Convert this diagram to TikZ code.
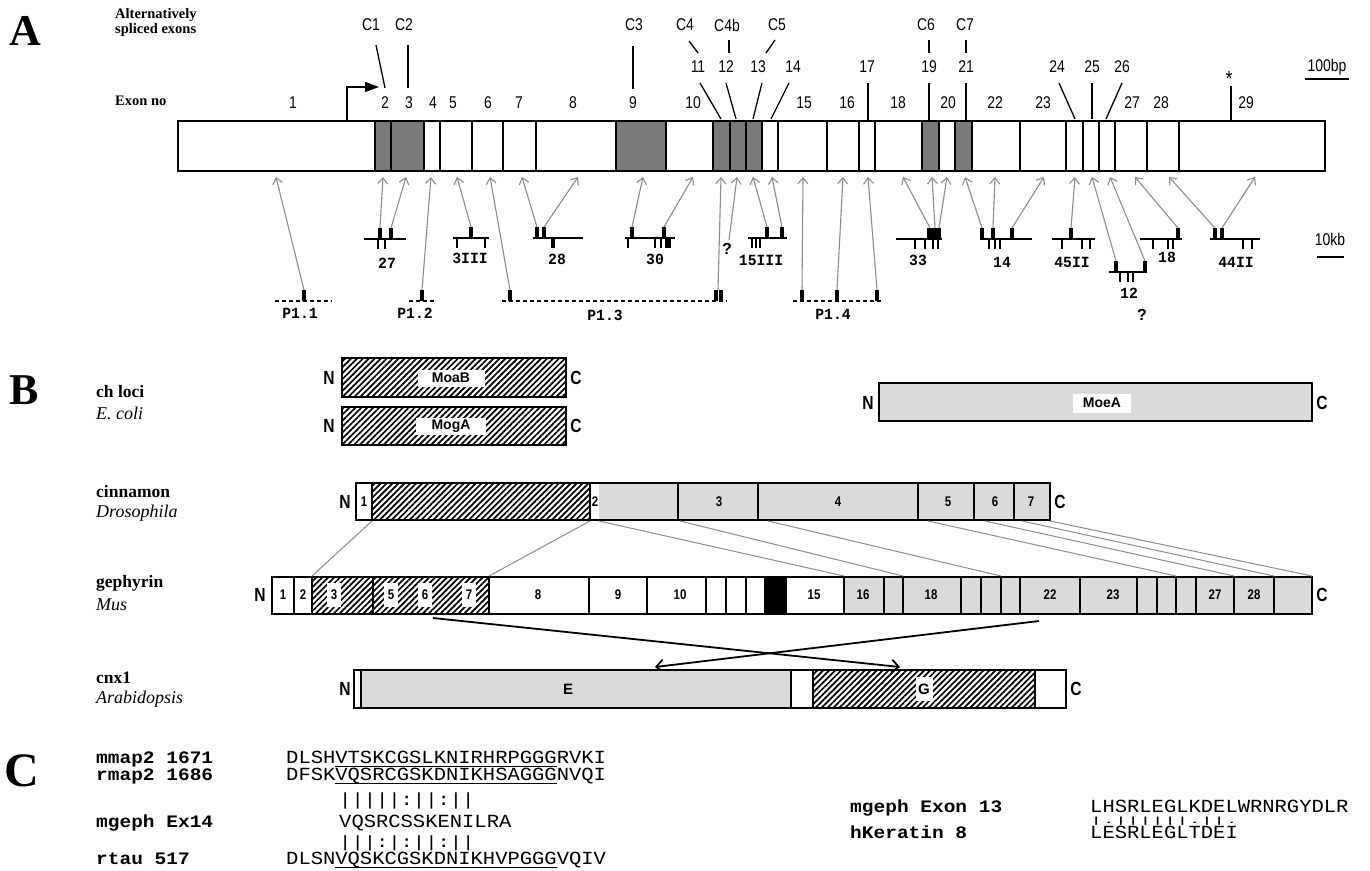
\documentclass[tikz,border=0pt]{standalone}
\usepackage{fontspec}
\setmainfont{Liberation Serif}
\newfontfamily\csans[FakeStretch=0.82]{Liberation Sans}
\newfontfamily\nsans{Liberation Sans}
\newfontfamily\seqf[FakeStretch=1.108]{Liberation Mono}
\newfontfamily\seqbf[FakeStretch=1.114]{Liberation Mono}
\newfontfamily\clf[FakeStretch=0.95]{Liberation Mono}
\usetikzlibrary{arrows.meta,patterns.meta}
\definecolor{altgray}{HTML}{7A7A7A}
\definecolor{lgray}{HTML}{DADADA}
\definecolor{agray}{HTML}{8C8C8C}
\tikzset{
 panel/.style={font=\bfseries\fontsize{44}{44}\selectfont, inner sep=0},
 head/.style={font=\bfseries\fontsize{14.5}{14.5}\selectfont, inner sep=0, anchor=west},
 exn/.style={font=\csans\fontsize{17}{17}\selectfont, inner sep=0},
 ptr/.style={line width=1.3pt},
 genebar/.style={draw, line width=1.6pt},
 garr/.style={draw=agray, line width=1.1pt, -{Straight Barb[length=6pt,width=10pt,line width=1.1pt]}},
 cline/.style={line width=1.6pt},
 ctick/.style={line width=1.2pt},
 clab/.style={font=\clf\bfseries\fontsize{15.5}{15.5}\selectfont, inner sep=0},
 pdash/.style={line width=1.2pt, dash pattern=on 4pt off 3pt},
 hatch/.style={pattern={Lines[angle=45,distance=4.2pt,line width=1.7pt]}},
 prot/.style={draw, line width=1.5pt},
 tlab/.style={font=\bfseries\fontsize{17.5}{17.5}\selectfont, inner sep=0, anchor=west},
 slab/.style={font=\itshape\fontsize{18}{18}\selectfont, inner sep=0, anchor=west},
 nc/.style={font=\csans\bfseries\fontsize{19}{19}\selectfont, inner sep=0},
 wl/.style={fill=white, inner sep=0, font=\nsans\bfseries\fontsize{14}{14}\selectfont},
 sl/.style={font=\csans\bfseries\fontsize{14}{14}\selectfont, inner sep=0},
 wd/.style={sl, fill=white, minimum width=14pt, minimum height=24pt},
 hom/.style={draw=agray, line width=1pt},
 xarr/.style={line width=1.8pt, -{Straight Barb[length=7pt,width=13pt,line width=1.8pt]}},
 seq/.style={font=\seqf\fontsize{18.5}{18.5}\selectfont, inner sep=0, anchor=base west, text height=10pt, text depth=1pt},
 seqb/.style={font=\seqbf\bfseries\fontsize{17.5}{17.5}\selectfont, inner sep=0, anchor=base west, text height=10pt, text depth=1pt},
 bars/.style={font=\seqf\fontsize{18.5}{18.5}\selectfont, inner sep=0, anchor=base west, text height=13pt, text depth=2pt},
 uline/.style={line width=1pt},
}
\newcommand\cmk[2]{\fill (#1-2,#2-11) rectangle (#1+2,#2);}
\newcommand\ctk[2]{\draw[ctick] (#1,#2) -- (#1,#2+10);}
\begin{document}
\begin{tikzpicture}[x=1pt,y=-1pt]
\useasboundingbox (0,0) rectangle (1370,870);
\fill[white] (0,0) rectangle (1370,870);
% ================= Panel A =================
\node[panel] (pA) at (25,31) {A};
\node[head] (alt1) at (115,15) {Alternatively};
\node[head] (alt2) at (115,30) {spliced exons};
\node[head] (exno) at (115,101) {Exon no};
% gene bar
\foreach \a/\b in {375/391,391/424,616/666,713/730,730/746,746/762,922/939,955/972}
  \fill[altgray] (\a,121) rectangle (\b,171);
\draw[genebar] (178,121) rectangle (1325,171);
\foreach \x in {375,391,424,440,472,503,536,616,666,713,730,746,762,778,827,859,875,922,939,955,972,1020,1066,1083,1099,1115,1147,1179}
  \draw[line width=1.3pt] (\x,121) -- (\x,171);
% promoter arrow
\draw[line width=1.3pt, -{Triangle[length=14pt,width=10pt]}] (347,121) -- (347,87) -- (379,87);
% exon numbers, lower row
\foreach \x/\t in {293/1,385/2,409/3,433/4,453/5,488/6,519/7,573/8,633/9,693/10,804/15,847/16,898/18,948/20,995/22,1043/23,1132/27,1161/28,1246/29}
  \node[exn] (e\t) at (\x,103) {\t};
% exon numbers, upper row
\foreach \x/\t in {698/11,726/12,758/13,793/14,867/17,929/19,966/21,1057/24,1092/25,1122/26}
  \node[exn] (u\t) at (\x,67) {\t};
% alt-spliced labels
\foreach \x/\t in {371/C1,404/C2,634/C3,685/C4,727/C4b,777/C5,926/C6,965/C7}
  \node[exn] (c\t) at (\x,25) {\t};
% pointer lines
\draw[ptr] (376,45) -- (385,88);
\draw[ptr] (408,45) -- (408,88);
\draw[ptr] (633,46) -- (633,89);
\draw[ptr] (689,41) -- (698,53);
\draw[ptr] (729,40) -- (729,53);
\draw[ptr] (775,40) -- (766,53);
\draw[ptr] (929,40) -- (929,53);
\draw[ptr] (966,40) -- (966,53);
\draw[ptr] (700,83) -- (721,119);
\draw[ptr] (726,83) -- (736,119);
\draw[ptr] (762,83) -- (753,119);
\draw[ptr] (789,83) -- (771,119);
\draw[ptr] (868,83) -- (868,121);
\draw[ptr] (929,83) -- (929,121);
\draw[ptr] (966,83) -- (966,121);
\draw[ptr] (1059,83) -- (1075,119);
\draw[ptr] (1092,83) -- (1092,119);
\draw[ptr] (1122,83) -- (1106,119);
\node[exn, font=\csans\fontsize{22}{22}\selectfont] (star) at (1229,79) {*};
\draw[ptr] (1231,86) -- (1231,121);
\node[exn] (bp) at (1327,67) {100bp};
\draw[line width=1.3pt] (1305,79) -- (1349,79);
% ---- genomic clones ----
\draw[pdash] (275,301) -- (332,301); \cmk{304}{301}
\node[clab] (p11) at (300,313) {P1.1};
\draw[pdash] (409,301) -- (435,301); \cmk{422}{301}
\node[clab] (p12) at (415,313) {P1.2};
\draw[pdash] (502,301) -- (727,301); \cmk{510}{301}\cmk{716}{301}\cmk{721}{301}
\node[clab] (p13) at (605,315) {P1.3};
\draw[pdash] (793,301) -- (883,301); \cmk{802}{301}\cmk{837}{301}\cmk{877}{301}
\node[clab] (p14) at (833,314) {P1.4};
% 27
\draw[cline] (364,239) -- (406,239); \cmk{380}{239}\cmk{391}{239}\ctk{378}{239}\ctk{385}{239}
\node[clab] (k27) at (387,263) {27};
% 3III
\draw[cline] (453,238) -- (489,238); \cmk{471}{238}\ctk{457}{238}\ctk{485}{238}
\node[clab] (k3) at (470,258) {3III};
% 28
\draw[cline] (533,238) -- (583,238); \cmk{537}{238}\cmk{544}{238}
\fill (551,238) rectangle (555,248);
\node[clab] (k28) at (557,259) {28};
% 30
\draw[cline] (625,238) -- (675,238); \cmk{632}{238}\cmk{664}{238}
\ctk{628}{238}\ctk{655}{238}\ctk{661}{238}\fill (665,238) rectangle (671,248);
\node[clab] (k30) at (655,259) {30};
\node[exn, font=\nsans\bfseries\fontsize{16}{16}\selectfont] (q1) at (727,249) {?};
% 15III
\draw[cline] (748,238) -- (787,238); \cmk{767}{238}\cmk{782}{238}\ctk{752}{238}\ctk{756}{238}\ctk{760}{238}
\node[clab] (k15) at (761,260) {15III};
% 33
\draw[cline] (896,239) -- (942,239); \fill (927,228) rectangle (941,239);
\ctk{915}{239}\ctk{925}{239}\ctk{933}{239}\ctk{938}{239}
\node[clab] (k33) at (918,260) {33};
% 14
\draw[cline] (980,239) -- (1032,239); \cmk{982}{239}\cmk{993}{239}\cmk{1012}{239}
\ctk{989}{239}\ctk{995}{239}\ctk{1000}{239}
\node[clab] (k14) at (1002,262) {14};
% 45II
\draw[cline] (1052,239) -- (1095,239); \cmk{1071}{239}\ctk{1062}{239}\ctk{1082}{239}\ctk{1090}{239}
\node[clab] (k45) at (1072,262) {45II};
% 12
\draw[cline] (1109,272) -- (1147,272); \cmk{1116}{272}\cmk{1145}{272}\ctk{1120}{272}\ctk{1128}{272}\ctk{1133}{272}
\node[clab] (k12) at (1129,293) {12};
\node[exn, font=\nsans\bfseries\fontsize{16}{16}\selectfont] (q2) at (1142,315) {?};
% 18
\draw[cline] (1140,239) -- (1182,239); \cmk{1178}{239}\ctk{1153}{239}\ctk{1168}{239}\ctk{1173}{239}
\node[clab] (k18) at (1167,257) {18};
% 44II
\draw[cline] (1210,239) -- (1260,239); \cmk{1215}{239}\cmk{1222}{239}\ctk{1243}{239}\ctk{1252}{239}
\node[clab] (k44) at (1236,262) {44II};
% 10kb
\node[exn] (kb) at (1330,239) {10kb};
\draw[line width=1.3pt] (1317,257) -- (1344,257);
% arrows
\foreach \a/\b/\c/\d in {304/290/276/177, 380/228/383/177, 391/228/406/177, 422/290/431/177,
  471/227/457/177, 510/290/490/177, 537/227/522/177, 544/227/578/177, 632/227/643/177,
  664/227/693/177, 729/240/737/177, 718/290/721/177, 767/227/753/177, 782/227/772/177,
  802/290/803/177, 837/290/843/177, 877/290/868/177, 930/228/903/177, 935/228/932/177,
  939/228/947/177, 982/228/965/177, 993/228/995/177, 1012/228/1044/177, 1071/228/1075/177,
  1116/261/1092/177, 1145/261/1110/177, 1178/228/1135/177, 1215/228/1169/177, 1222/228/1255/177}
  \draw[garr] (\a,\b) -- (\c,\d);
% ================= Panel B =================
\node[panel] (pB) at (24,390) {B};
\node[tlab] (chl) at (96,392) {ch loci};
\node[slab] (eco) at (96,413) {E. coli};
% MoaB
\path[hatch] (342,358) rectangle (566,397);
\draw[prot] (342,358) rectangle (566,397);
\node[wl, minimum width=67pt, minimum height=17pt] (moab) at (451,378) {MoaB};
\node[nc] (n1) at (329,378) {N}; \node[nc] (c1) at (576,378) {C};
% MogA
\path[hatch] (342,407) rectangle (566,445);
\draw[prot] (342,407) rectangle (566,445);
\node[wl, minimum width=70pt, minimum height=17pt] (moga) at (451,426) {MogA};
\node[nc] (n2) at (329,426) {N}; \node[nc] (c2) at (576,426) {C};
% MoeA
\fill[lgray] (879,383) rectangle (1312,421);
\draw[prot] (879,383) rectangle (1312,421);
\node[wl, minimum width=58pt, minimum height=19pt] (moea) at (1102,403) {MoeA};
\node[nc] (n3) at (868,403) {N}; \node[nc] (c3) at (1322,403) {C};
% cinnamon
\node[tlab] (cin) at (96,492) {cinnamon};
\node[slab] (dro) at (96,513) {Drosophila};
\path[hatch] (372,483) rectangle (590,520);
\fill[lgray] (599,483) rectangle (1050,520);
\draw[prot] (356,483) rectangle (1050,520);
\foreach \x in {372,590,678,758,918,974,1014} \draw[line width=1.3pt] (\x,483) -- (\x,520);
\foreach \x/\t in {364/1,719/3,838/4,948/5,995/6,1031/7} \node[sl] (ci\t) at (\x,502) {\t};
\node[sl] (ci2) at (595,502) {2};
\node[nc] (n4) at (345,502) {N}; \node[nc] (c4) at (1060,502) {C};
% gephyrin
\node[tlab] (gep) at (96,583) {gephyrin};
\node[slab] (mus) at (96,605) {Mus};
\path[hatch] (312,577) rectangle (489,614);
\fill (765,577) rectangle (786,614);
\fill[lgray] (844,577) rectangle (1312,614);
\draw[prot] (272,577) rectangle (1312,614);
\foreach \x in {294,312,373,489,589,647,706,726,746,765,786,844,884,903,961,981,1001,1020,1080,1137,1157,1176,1196,1234,1274}
  \draw[line width=1.3pt] (\x,577) -- (\x,614);
\foreach \x/\t in {283/1,303/2,538/8,618/9,680/10,814/15,863/16,931/18,1050/22,1113/23,1215/27,1254/28}
  \node[sl] (g\t) at (\x,595) {\t};
\foreach \x/\t in {334/3,391/5,425/6,469/7}
  \node[wd] (g\t) at (\x,595) {\t};
\node[nc] (n5) at (260,595) {N}; \node[nc] (c5) at (1322,595) {C};
% homology lines
\foreach \a/\b in {372/312,590/489,599/844,680/903,768/1001,928/1176,985/1234,1022/1274,1050/1312}
  \draw[hom] (\a,521) -- (\b,576);
% crossing arrows
\draw[xarr] (433,618) -- (900,667);
\draw[xarr] (1039,621) -- (655,667);
% cnx1
\node[tlab] (cnx) at (96,678) {cnx1};
\node[slab] (ara) at (96,699) {Arabidopsis};
\fill[lgray] (361,670) rectangle (791,708);
\path[hatch] (813,670) rectangle (1035,708);
\draw[prot] (354,670) rectangle (1066,708);
\foreach \x in {361,791,813,1035} \draw[line width=1.3pt] (\x,670) -- (\x,708);
\node[sl, font=\nsans\bfseries\fontsize{15}{15}\selectfont] (eE) at (568,689) {E};
\node[wd, font=\nsans\bfseries\fontsize{15}{15}\selectfont, minimum width=17pt] (gG) at (924,689) {G};
\node[nc] (n6) at (345,689) {N}; \node[nc] (c6) at (1076,689) {C};
% ================= Panel C =================
\node[panel, font=\bfseries\fontsize{48}{48}\selectfont] (pC) at (22,771) {C};
\node[seqb] (l1) at (96,763) {mmap2 1671};
\node[seq] (s1) at (286,763) {DLSHVTSKCGSLKNIRHRPGGGRVKI};
\draw[uline] (335.2,766) -- (556.6,766);
\node[seqb] (l2) at (96,780) {rmap2 1686};
\node[seq] (s2) at (286,780) {DFSKVQSRCGSKDNIKHSAGGGNVQI};
\draw[uline] (335.2,783) -- (556.6,783);
\node[bars] (b1) at (339,805) {\scalebox{1}[0.95]{|||||:||:||}};
\node[seqb] (l3) at (96,827) {mgeph Ex14};
\node[seq] (s3) at (339,827) {VQSRCSSKENILRA};
\node[bars] (b2) at (339,847) {\scalebox{1}[0.88]{|||:|:||:||}};
\node[seqb] (l4) at (96,864) {rtau 517};
\node[seq] (s4) at (286,864) {DLSNVQSKCGSKDNIKHVPGGGVQIV};
\draw[uline] (335.2,867) -- (556.6,867);
\node[seqb] (l5) at (850,812) {mgeph Exon 13};
\node[seq] (s5) at (1090,812) {LHSRLEGLKDELWRNRGYDLR};
\node[seq, text height=8pt, text depth=0pt] (b3) at (1090,823) {\scalebox{1}[0.48]{|.||||||.||.}};
\node[seqb] (l6) at (850,838) {hKeratin 8};
\node[seq] (s6) at (1090,838) {LESRLEGLTDEI};
\end{tikzpicture}
\end{document}
